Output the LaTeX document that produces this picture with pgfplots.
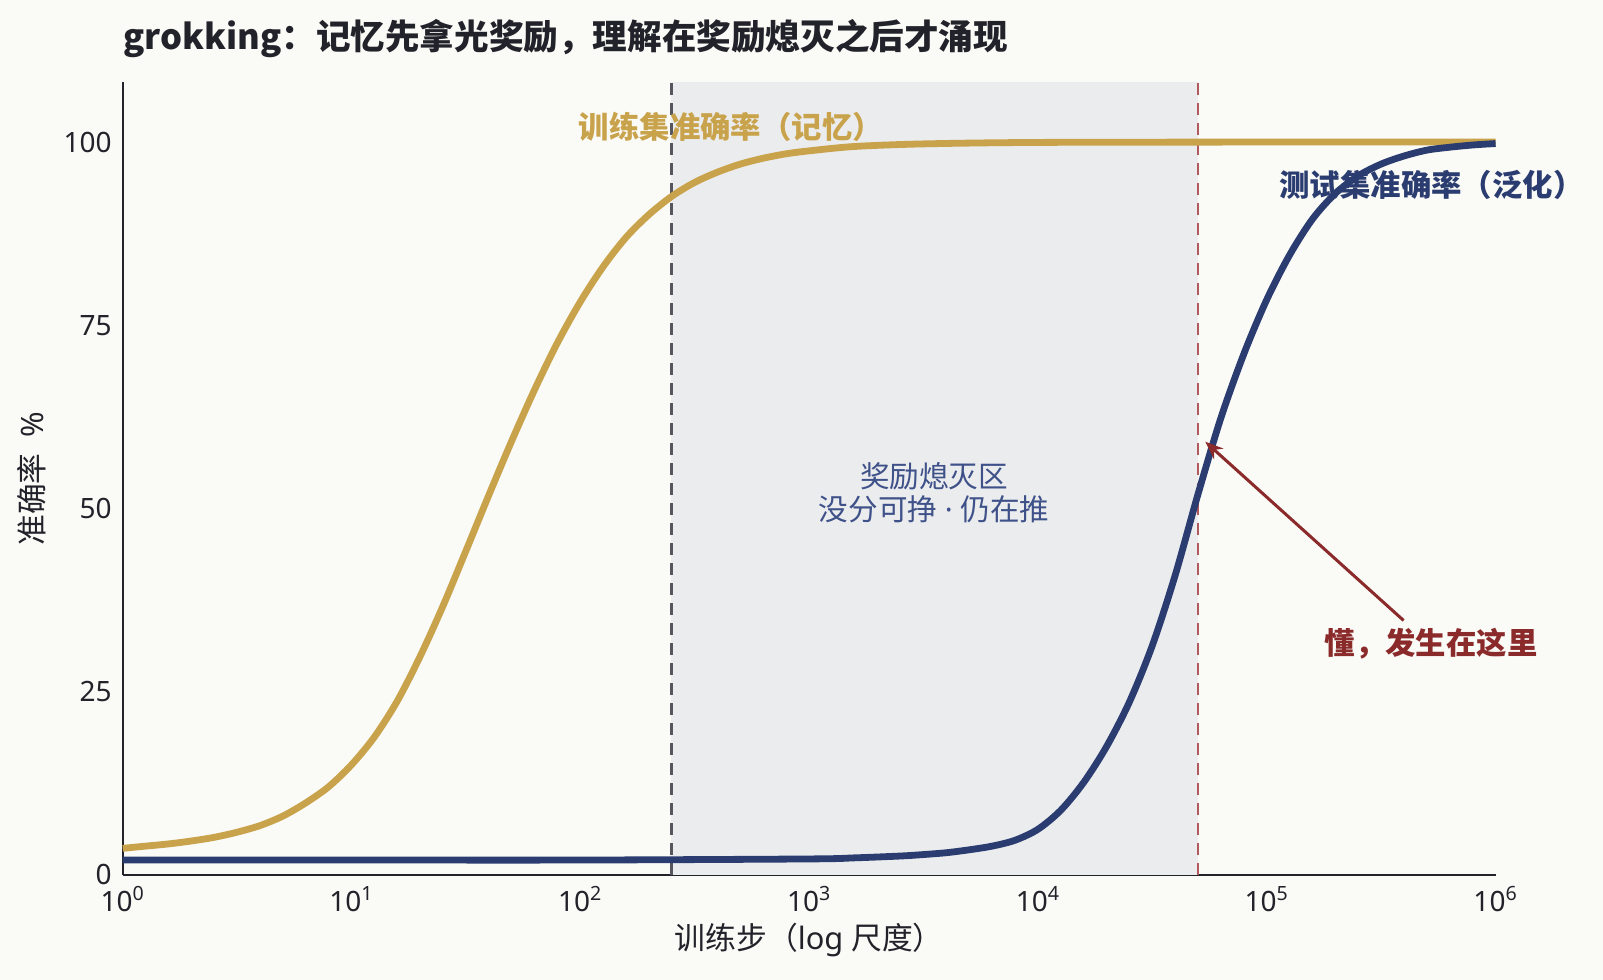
\documentclass[border=0pt]{standalone}
\usepackage{fontspec}
\setmainfont{Noto Sans}
\newfontfamily\cjk{Noto Sans CJK SC}
\usepackage{pgfplots}
\pgfplotsset{compat=1.18}
\usetikzlibrary{arrows.meta}

\definecolor{bg}{HTML}{FAFAF6}
\definecolor{gold}{HTML}{C9A34B}
\definecolor{navy}{HTML}{2B3D70}
\definecolor{zone}{HTML}{EBECEE}
\definecolor{zonetext}{HTML}{3F5189}
\definecolor{darkred}{HTML}{8B2A2A}
\definecolor{dashred}{HTML}{B05A5F}
\definecolor{dashgray}{HTML}{55565E}
\definecolor{ink}{HTML}{22222A}

\newcommand{\lbl}{\fontsize{14.8}{16.5}\selectfont}
\newcommand{\blbl}{\fontsize{15.2}{17}\selectfont}
\newcommand{\axl}{\fontsize{15.4}{17}\selectfont}

\begin{document}
\begin{tikzpicture}[x=1pt,y=1pt]
\fill[bg, use as bounding box] (0,0) rectangle (801.5,490);

\node[anchor=west, inner sep=0, text=ink, font=\cjk\bfseries\fontsize{17.3}{20}\selectfont]
  at (61.5,470.8) {grokking：记忆先拿光奖励，理解在奖励熄灭之后才涌现};

\begin{axis}[
  at={(61.35pt,52.65pt)}, anchor=south west,
  scale only axis, width=686.45pt, height=396.35pt,
  xmode=log, xmin=1, xmax=1e6, ymin=0, ymax=108.2,
  separate axis lines,
  axis x line*=bottom, axis y line*=left,
  x axis line style={-}, y axis line style={-},
  axis line style={ink, line width=1pt},
  xtick={1,10,100,1000,10000,100000,1000000},
  xticklabels={10\textsuperscript{0},10\textsuperscript{1},10\textsuperscript{2},10\textsuperscript{3},10\textsuperscript{4},10\textsuperscript{5},10\textsuperscript{6}},
  xminorticks=false, minor tick length=0pt,
  ytick={0,25,50,75,100}, yticklabels={0,25,50,75,100},
  major tick length=0pt,
  tick label style={font=\fontsize{14}{16}\selectfont, text=ink},
  yticklabel style={xshift=-2pt},
  xticklabel style={yshift=-2.5pt},
  clip=false,
]
% reward-extinction zone
\fill[zone] (axis cs:250,0) rectangle (axis cs:50000,108.2);
\draw[dashgray, line width=1.2pt, dash pattern=on 6pt off 4pt] (axis cs:250,0) -- (axis cs:250,108.2);
\draw[dashred, line width=1.2pt, dash pattern=on 6pt off 4pt] (axis cs:50000,0) -- (axis cs:50000,108.2);

% train accuracy (memorisation)
\addplot[gold, line width=3.4pt, smooth, tension=0.5] coordinates {
  (1,3.6) (1.259,3.9) (1.585,4.2) (1.995,4.6) (2.512,5.1) (3.162,5.8)
  (3.981,6.7) (5.012,8.0) (6.310,9.8) (7.943,12.0) (10,15.0)
  (12.59,18.8) (15.85,23.7) (19.95,29.8) (25.12,36.7) (31.62,44.2)
  (39.81,51.8) (50.12,59.2) (63.10,66.2) (79.43,72.6) (100,78.2)
  (125.9,83.0) (158.5,87.0) (199.5,90.1) (251.2,92.6) (316.2,94.5)
  (398.1,95.9) (501.2,97.0) (631.0,97.8) (794.3,98.4) (1000,98.8)
  (1585,99.4) (3162,99.75) (10000,99.95) (100000,100) (1000000,100)
};

% test accuracy (generalisation)
\addplot[navy, line width=3.4pt, smooth, tension=0.5] coordinates {
  (1,2.0) (10,2.0) (100,2.0) (1000,2.15) (1585,2.3) (2512,2.55)
  (3162,2.75) (3981,3.0) (5012,3.4) (6310,3.9) (7943,4.7) (10000,6.2)
  (12589,8.8) (15849,12.6) (19953,17.5) (25119,23.6) (31623,31.3)
  (39811,40.9) (50119,52.0) (63096,62.4) (79433,71.1) (100000,78.5)
  (125893,84.6) (158489,89.5) (199526,93.0) (251189,95.4) (316228,97.0)
  (398107,98.1) (501187,98.9) (630957,99.3) (794328,99.6) (1000000,99.8)
};

\node[text=gold, font=\bfseries\blbl\cjk] at (axis cs:455,102.1) {训练集准确率（记忆）};
\node[text=navy, font=\bfseries\blbl\cjk] at (axis cs:525000,94.1) {测试集准确率（泛化）};
\node[text=zonetext, font=\lbl, align=center] at (axis cs:3515,52.1)
  {{\cjk 奖励熄灭区}\\{\cjk 没分可挣} · {\cjk 仍在推}};
\draw[darkred, line width=1.5pt, -{Stealth[length=9pt,width=7pt]}]
  (axis cs:396300,34.7) -- (axis cs:53830,59.1);
\node[text=darkred, font=\bfseries\blbl\cjk] at (axis cs:522400,31.5) {懂，发生在这里};
\end{axis}

\node[text=ink, font=\axl] at (404.6,20) {{\cjk 训练步（}log {\cjk 尺度）}};
\node[text=ink, font=\axl, rotate=90] at (15.8,250.5) {{\cjk 准确率}\hspace{0.5em}\%};
\end{tikzpicture}
\end{document}
